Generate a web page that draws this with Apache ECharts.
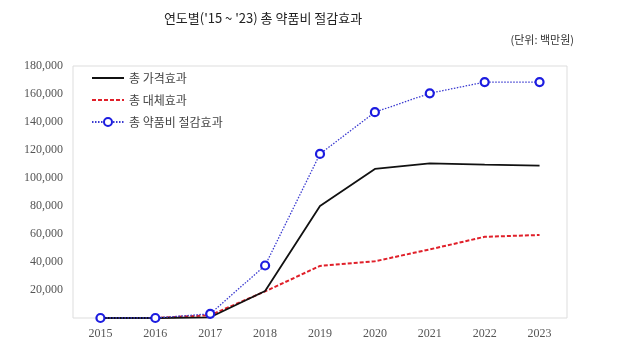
<!DOCTYPE html>
<html>
<head>
<meta charset="utf-8">
<script src="https://cdn.jsdelivr.net/npm/echarts@6/dist/echarts.min.js"></script>
<style>
  html, body { margin: 0; padding: 0; background: #fff; }
  #chart { width: 625px; height: 352px; }
</style>
</head>
<body>
<div id="chart"></div>
<script>
// 연도별 약품비 절감효과 (단위: 백만원)
var years = ['2015', '2016', '2017', '2018', '2019', '2020', '2021', '2022', '2023'];
var priceEffect = [0, 0, 500, 19300, 80000, 106500, 110500, 109500, 108800];   // 총 가격효과
var substEffect = [0, 0, 2000, 19000, 37200, 40500, 49000, 58000, 59300];      // 총 대체효과
var totalEffect = [0, 0, 3000, 37500, 117200, 147000, 160500, 168500, 168500]; // 총 약품비 절감효과
var seriesNames = ['총 가격효과', '총 대체효과', '총 약품비 절감효과'];

var chart = echarts.init(document.getElementById('chart'));

var option = {
  animation: false,
  title: [{
    text: "연도별('15 ~ '23) 총 약품비 절감효과",
    left: 258,
    top: 7,
    textAlign: 'center',
    textStyle: { fontFamily: 'Noto Sans CJK KR', fontSize: 13, fontWeight: 'normal', color: '#222' }
  }, {
    text: '(단위: 백만원)',
    right: 46,
    top: 29,
    textStyle: { fontFamily: 'Noto Sans CJK KR', fontSize: 11, fontWeight: 'normal', color: '#333' }
  }],
  legend: {
    orient: 'vertical',
    left: 86,
    top: 67,
    itemWidth: 32,
    itemHeight: 10,
    itemGap: 10,
    data: [
      // 선만 있는 계열은 범례에서 점을 숨김
      { name: seriesNames[0], itemStyle: { opacity: 0 } },
      { name: seriesNames[1], itemStyle: { opacity: 0 } },
      { name: seriesNames[2] }
    ],
    textStyle: { fontFamily: 'Noto Sans CJK KR', fontSize: 12, color: '#444' }
  },
  grid: {
    left: 73,
    right: 58,
    top: 66,
    bottom: 34,
    show: true,
    borderColor: '#ddd',
    borderWidth: 1
  },
  xAxis: {
    type: 'category',
    data: years,
    boundaryGap: true,
    axisLine: { show: false },
    axisTick: { show: false },
    axisLabel: { margin: 10, fontFamily: 'Liberation Serif', fontSize: 12, color: '#555' }
  },
  yAxis: {
    type: 'value',
    min: 0,
    max: 180000,
    interval: 20000,
    splitLine: { show: false },
    axisLine: { show: false },
    axisTick: { show: false },
    axisLabel: {
      margin: 10,
      fontFamily: 'Liberation Serif',
      fontSize: 12,
      color: '#555',
      formatter: function (v) {
        if (v === 0) return '';
        return v.toLocaleString('en-US');
      }
    }
  },
  series: [{
    name: seriesNames[0],
    type: 'line',
    data: priceEffect,
    symbol: 'none',
    z: 3,
    lineStyle: { color: '#111', width: 1.8, type: 'solid' },
    itemStyle: { color: '#111' }
  }, {
    name: seriesNames[1],
    type: 'line',
    data: substEffect,
    symbol: 'none',
    z: 2,
    lineStyle: { color: '#e0202a', width: 2, type: [4, 2] },
    itemStyle: { color: '#e0202a' }
  }, {
    name: seriesNames[2],
    type: 'line',
    data: totalEffect,
    symbol: 'circle',
    symbolSize: 8,
    z: 4,
    lineStyle: { color: '#3a3ad0', width: 1.3, type: [1.5, 1.5] },
    itemStyle: { color: '#fff', borderColor: '#1c1ce0', borderWidth: 2.2 }
  }]
};

chart.setOption(option);
</script>
</body>
</html>
